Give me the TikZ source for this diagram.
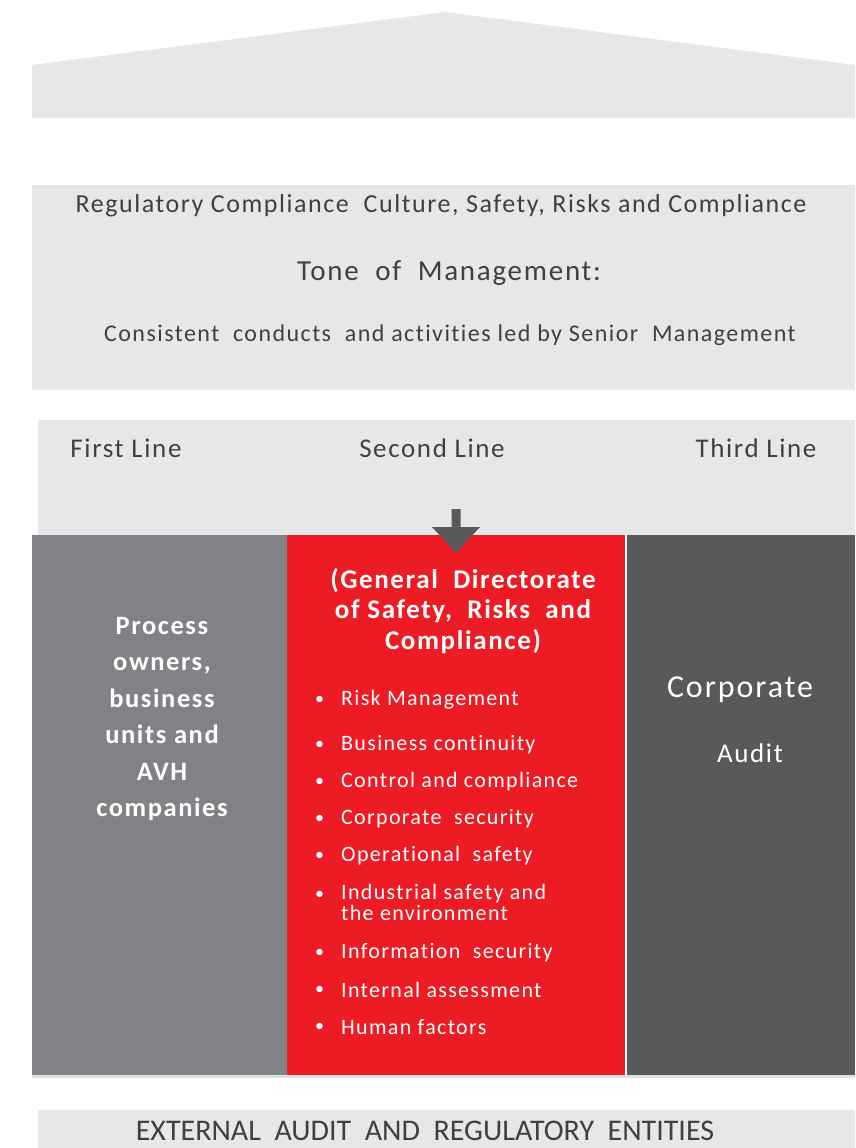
\documentclass[tikz,border=0pt]{standalone}
\usepackage{fontspec}
\setmainfont{Carlito}[LetterSpace=6,Ligatures={NoCommon,NoRare}]
\definecolor{lgray}{HTML}{E6E7E8}
\definecolor{pillarA}{HTML}{808285}
\definecolor{pillarB}{HTML}{ED1C24}
\definecolor{pillarC}{HTML}{58595B}
\definecolor{txtgray}{HTML}{404042}
\begin{document}
\begin{tikzpicture}[x=1pt,y=-1pt,
  box/.style={draw=none, inner sep=0pt, outer sep=0pt, anchor=north west},
  dtxt/.style={text=txtgray, inner sep=0pt},
  wtxt/.style={text=white, inner sep=0pt, align=center},
  bul/.style={text=white, inner sep=0pt, anchor=west, font=\fontsize{22}{22}\selectfont},
  bitem/.style={text=white, inner sep=0pt, anchor=west, align=left, font=\fontsize{22}{21}\selectfont}]
\useasboundingbox (0,0) rectangle (855,1148);
% roof
\fill[lgray] (32,65) -- (445,12) -- (855,65) -- (855,118) -- (32,118) -- cycle;
% boxes
\node[box, fill=lgray, minimum width=823pt, minimum height=205pt] (culture) at (32,185) {};
\node[box, fill=lgray, minimum width=817pt, minimum height=115pt] (lines) at (38,420) {};
\fill[black!12] (32,1075) rectangle (855,1078);
\node[box, fill=pillarA, minimum width=255pt, minimum height=540pt] (first) at (32,535) {};
\node[box, fill=pillarB, minimum width=339pt, minimum height=540pt] (second) at (287,535) {};
\node[box, fill=pillarC, minimum width=229pt, minimum height=540pt] (third) at (626,535) {};
\node[box, fill=lgray, minimum width=817pt, minimum height=38pt] (ext) at (38,1110) {};
\draw[white, line width=1.2pt] (second.north east) -- (second.south east);
% arrow
\fill[pillarC] (451.5,509) -- (460.5,509) -- (460.5,527) -- (480,527) -- (456,553) -- (432,527) -- (451.5,527) -- cycle;
% culture texts
\node[dtxt, font=\fontsize{26}{26}\selectfont] (reg) at (441,206) {Regulatory Compliance\ \ Culture, Safety, Risks and Compliance};
\node[dtxt, font=\fontsize{29}{29}\selectfont] (tone) at (449,273) {Tone\ \ of\ \ Management:};
\node[dtxt, font=\fontsize{24}{24}\selectfont] (cons) at (450,335) {Consistent\ \ conducts\ \ and activities led by Senior\ \ Management};
% line labels
\node[dtxt, font=\fontsize{27}{27}\selectfont] (l1) at (126,448) {First Line};
\node[dtxt, font=\fontsize{27}{27}\selectfont] (l2) at (432,448) {Second Line};
\node[dtxt, font=\fontsize{27}{27}\selectfont] (l3) at (756,448) {Third Line};
% pillar texts
\node[wtxt, font=\bfseries\fontsize{26.5}{36.4}\selectfont] (t1) at (162,719) {Process\\owners,\\business\\units and\\AVH\\companies};
\node[wtxt, font=\bfseries\fontsize{27}{30.5}\selectfont] (t2) at (463,611) {(General\ \ Directorate\\of Safety,\ \ Risks\ \ and\\Compliance)};
\node[wtxt, font=\fontsize{32}{32}\selectfont] (t3a) at (740,690) {Corporate};
\node[wtxt, font=\fontsize{27}{27}\selectfont] (t3b) at (750,753) {Audit};
% bullets
\foreach \y/\t [count=\i] in {700/Risk Management, 745/Business continuity, 782/Control and compliance, 819/Corporate\ \ security, 856/Operational\ \ safety, 953/Information\ \ security, 990/Internal assessment, 1027/Human factors}{
  \node[bul, font=\fontsize{18}{18}\selectfont] (b\i) at (315,\y) {•};
  \node[bul] (i\i) at (341,\y) {\t};
}
\node[bul, font=\fontsize{18}{18}\selectfont] (b9) at (315,895) {•};
\node[bitem, anchor=north west] (i9) at (341,884) {Industrial safety and\\the environment};
% external
\node[dtxt, font=\addfontfeature{LetterSpace=0}\fontsize{30}{30}\selectfont] (extt) at (425,1131) {EXTERNAL\ \ AUDIT\ \ AND\ \ REGULATORY\ \ ENTITIES};
\end{tikzpicture}
\end{document}
